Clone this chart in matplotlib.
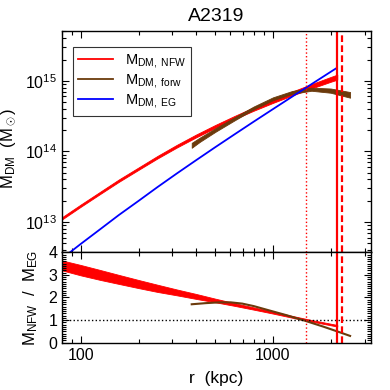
# M_DM profiles for A2319 (NFW fit, forward model, emergent gravity) plus the ratio panel

import numpy as np
import matplotlib
matplotlib.use("Agg")
import matplotlib.pyplot as plt
from matplotlib.lines import Line2D
from matplotlib.ticker import LogLocator, MultipleLocator, FixedLocator, NullFormatter, FixedFormatter

plt.rcParams['font.family'] = ['Liberation Sans', 'DejaVu Sans']
plt.rcParams['mathtext.fontset'] = 'custom'
plt.rcParams['mathtext.rm'] = 'Liberation Sans'
plt.rcParams['mathtext.it'] = 'Liberation Sans'
plt.rcParams['mathtext.bf'] = 'Liberation Sans:bold'

CLUSTER = "A2319"

# top panel: masses (Msun) vs r (kpc); *_err are half widths of the bands in dex
r_nfw = [80, 100, 126, 158, 200, 251, 316, 398, 501, 631, 794, 1000, 1259, 1585, 1995, 2160]
m_nfw = [1.122e13, 1.694e13, 2.564e13, 3.837e13, 5.675e13, 8.260e13, 1.180e14, 1.648e14,
         2.249e14, 3.013e14, 3.972e14, 5.152e14, 6.592e14, 8.337e14, 1.045e15, 1.125e15]
m_nfw_err = [0.016, 0.016, 0.016, 0.017, 0.017, 0.018, 0.019, 0.020,
             0.021, 0.022, 0.024, 0.026, 0.028, 0.031, 0.034, 0.036]

r_forw = [378, 417, 501, 631, 794, 1000, 1259, 1585, 1995, 2518]
m_forw = [1.216e14, 1.462e14, 1.995e14, 2.884e14, 4.121e14, 5.559e14, 6.839e14, 7.586e14, 7.244e14, 6.310e14]
m_forw_err = [0.035, 0.030, 0.025, 0.022, 0.020, 0.020, 0.020, 0.022, 0.030, 0.040]

r_eg = [80, 100, 126, 158, 200, 251, 316, 398, 501, 631, 794, 1000, 1259, 1585, 1995, 2140]
m_eg = [3.02e12, 4.853e12, 7.816e12, 1.250e13, 1.982e13, 3.112e13, 4.842e13, 7.464e13,
        1.143e14, 1.738e14, 2.630e14, 3.963e14, 5.957e14, 8.933e14, 1.337e15, 1.510e15]

# bottom panel: M_NFW / M_EG (band) and M_forw / M_EG
r_ratio = [80, 100, 126, 158, 200, 251, 316, 398, 501, 631, 794, 1000, 1259, 1585, 2160]
ratio = [3.42, 3.21, 3.00, 2.80, 2.595, 2.405, 2.226, 2.048, 1.869, 1.69, 1.512, 1.333, 1.145, 0.97, 0.75]
ratio_err = [0.22, 0.23, 0.22, 0.20, 0.18, 0.16, 0.13, 0.11, 0.08, 0.06, 0.05, 0.045, 0.04, 0.035, 0.035]

r_ratio_forw = [378, 447, 525, 603, 692, 794, 927, 1178, 1469, 1828, 2158, 2518]
ratio_forw = [1.70, 1.75, 1.785, 1.785, 1.73, 1.62, 1.46, 1.215, 0.97, 0.71, 0.50, 0.30]

# characteristic radii (kpc)
r_dotted = 1480
r_solid = 2162
r_dashed = 2276

RED = '#ff0000'
BROWN = '#6b3a0c'
BLUE = '#0000ff'


def dex_band(m, err):
    m = np.asarray(m)
    e = np.asarray(err)
    return m * 10**(-e), m * 10**e


fig = plt.figure(figsize=(3.9, 3.9), dpi=100)
ax1 = fig.add_axes([0.159, 0.353, 0.792, 0.5675])
ax2 = fig.add_axes([0.159, 0.1213, 0.792, 0.2318])

lo, hi = dex_band(m_nfw, m_nfw_err)
ax1.fill_between(r_nfw, lo, hi, color=RED, lw=0.6)
lo, hi = dex_band(m_forw, m_forw_err)
ax1.fill_between(r_forw, lo, hi, color=BROWN, lw=0.6)
ax1.plot(r_eg, m_eg, color=BLUE, lw=1.3)

ax2.fill_between(r_ratio, np.array(ratio) - np.array(ratio_err), np.array(ratio) + np.array(ratio_err),
                 color=RED, lw=0.6)
ax2.plot(r_ratio_forw, ratio_forw, color=BROWN, lw=1.5)
ax2.axhline(1, color='black', ls=':', lw=1)

for ax in (ax1, ax2):
    ax.axvline(r_dotted, color=RED, ls=':', lw=1)
    ax.axvline(r_solid, color=RED, ls='-', lw=1.6)
    ax.axvline(r_dashed, color=RED, ls=(0, (3, 1.5)), lw=1.6)
    ax.set_xscale('log')
    ax.set_xlim(80, 3230)
    ax.tick_params(which='both', direction='in', top=True, right=True, labelsize=11.5, width=0.8)
    ax.tick_params(which='major', length=5)
    ax.tick_params(which='minor', length=3)
    ax.xaxis.set_minor_locator(LogLocator(base=10, subs=range(2, 10)))
    ax.xaxis.set_minor_formatter(NullFormatter())
    for s in ax.spines.values():
        s.set_linewidth(1.0)

ax1.set_yscale('log')
ax1.set_ylim(3.7e12, 5.07e15)
ax1.yaxis.set_minor_locator(LogLocator(base=10, subs=range(2, 10)))
ax1.yaxis.set_minor_formatter(NullFormatter())
ax1.tick_params(axis='x', which='both', labelbottom=False)
ax1.set_title(CLUSTER, fontsize=14, pad=7)
ax1.set_ylabel(r'M$_{\rm DM}$  (M$_\odot$)', fontsize=12)
ax1.yaxis.set_label_coords(-0.143, 0.47)

handles = [Line2D([], [], color=RED, lw=1.3),
           Line2D([], [], color=BROWN, lw=1.3),
           Line2D([], [], color=BLUE, lw=1.3)]
labels = [r'M$_{\rm DM,\ NFW}$', r'M$_{\rm DM,\ forw}$', r'M$_{\rm DM,\ EG}$']
leg = ax1.legend(handles, labels, loc='upper left', bbox_to_anchor=(0.036, 0.928), borderaxespad=0,
                 fontsize=10.5, frameon=True, fancybox=False, edgecolor='black',
                 handlelength=2.4, handletextpad=0.8, borderpad=0.35, labelspacing=0.15)
leg.get_frame().set_linewidth(0.8)

ax2.set_ylim(0, 4)
ax2.yaxis.set_major_locator(MultipleLocator(1))
ax2.yaxis.set_minor_locator(MultipleLocator(0.1))
ax2.xaxis.set_major_locator(FixedLocator([100, 1000]))
ax2.xaxis.set_major_formatter(FixedFormatter(['100', '1000']))
ax2.set_ylabel(r'M$_{\rm NFW}$  /  M$_{\rm EG}$', fontsize=12)
ax2.yaxis.set_label_coords(-0.072, 0.49)
ax2.set_xlabel('r  (kpc)', fontsize=12.5)
ax2.xaxis.set_label_coords(0.5, -0.31)

plt.savefig("out.png", dpi=100)
